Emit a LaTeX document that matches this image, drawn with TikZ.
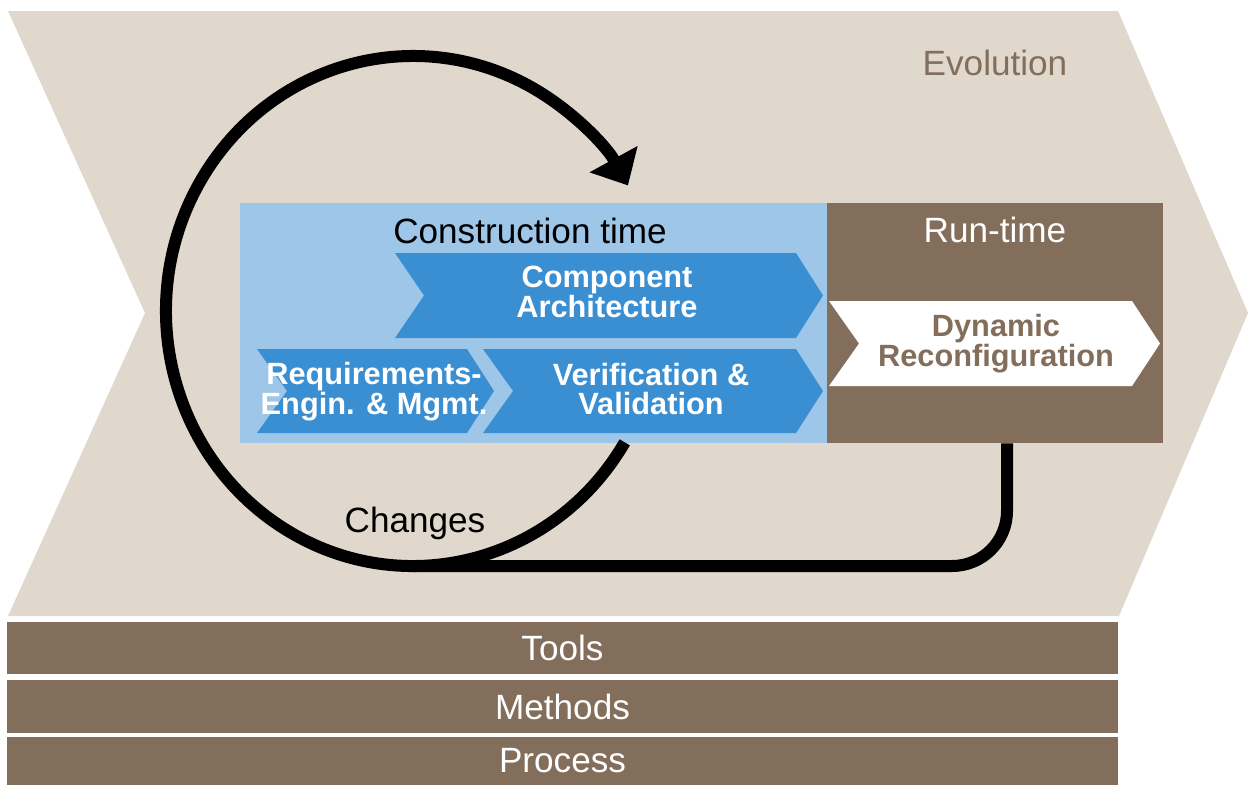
\documentclass[tikz,border=0pt]{standalone}
\usepackage{fontspec}
\setmainfont{Liberation Sans}
\usetikzlibrary{arrows.meta}
\definecolor{cor_beige}{HTML}{E0D8CD}
\definecolor{cor_brown}{HTML}{826E5A}
\definecolor{cor_lightblue}{HTML}{9DC6E8}
\definecolor{cor_blue}{HTML}{3A8ED2}

\begin{document}
\begin{tikzpicture}[x=0.02cm, y=-0.02cm]
        \tikzset{
            box/.style={
                fill=#1,
                inner sep=0pt,
                minimum height=4.8cm
            },
            bar/.style={
                fill=cor_brown,
                inner sep=0pt,
                minimum width=22.22cm,
                text=white,
                font=\fontsize{20pt}{22pt}\selectfont
            },
            lbl/.style={
                inner sep=0pt,
                font=\fontsize{20pt}{22pt}\selectfont
            },
            chevlbl/.style={
                inner sep=0pt,
                align=center,
                font=\bfseries\fontsize{17.5pt}{17pt}\selectfont
            },
            loop/.style={
                draw=black,
                line width=0.24cm
            }
        }
        \useasboundingbox (0,0) rectangle (1250,785);

        % big arrow
        \fill[cor_beige] (8,11) -- (1118,11) -- (1248,313) -- (1119,616) -- (8,616) -- (145,313) -- cycle;

        \coordinate (loopc) at (413,311);
        \coordinate (loopb) at (413,566);

        % boxes
        \node[box=cor_lightblue, minimum width=11.74cm] (construction) at (533.5,323) {};
        \node[box=cor_brown, minimum width=6.72cm] (runtime) at (995,323) {};

        % changes loop
        \draw[loop, -{Triangle[length=0.6cm, width=1.06cm]}] (loopc) ++(31:247 and 255)
            arc[start angle=31, end angle=330.5, x radius=247, y radius=255];
        \draw[loop, rounded corners=1.1cm] ([xshift=0.24cm]runtime.south) |- (loopb);

        % chevrons
        \fill[cor_blue] (395,253) -- (796,253) -- (823,295.5) -- (796,338) -- (395,338) -- (424,295.5) -- cycle;
        \fill[cor_blue] (257,349) -- (467,349) -- (494,391) -- (467,433) -- (257,433) -- (287,391) -- cycle;
        \fill[cor_blue] (483,349) -- (796,349) -- (823,391) -- (796,433) -- (483,433) -- (513,391) -- cycle;
        \fill[white] (829,301) -- (1132,301) -- (1160,343.5) -- (1132,386) -- (829,386) -- (859,343.5) -- cycle;

        \node[chevlbl, text=white] (comp) at (607,292) {Component\\Architecture};
        \node[chevlbl, text=white] (req) at (374,392) {Requirements-\\Engin. \& Mgmt.};
        \node[chevlbl, text=white] (verif) at (651,389) {Verification \&\\Validation};
        \node[chevlbl, text=cor_brown] (dyn) at (996,344) {Dynamic\\Reconfiguration};

        % titles
        \node[lbl] (ctime) at (530,230.5) {Construction time};
        \node[lbl, text=white] (rtime) at (995,229.5) {Run-time};
        \node[lbl, text=cor_brown] (evol) at (995,63) {Evolution};
        \node[lbl] (changes) at (415,523) {Changes};

        % bottom bars
        \node[bar, minimum height=1.04cm] (tools) at (562.5,648) {Tools};
        \node[bar, minimum height=1.06cm] (methods) at (562.5,706.5) {Methods};
        \node[bar, minimum height=0.96cm] (process) at (562.5,761) {Process};

    \end{tikzpicture}
\end{document}
